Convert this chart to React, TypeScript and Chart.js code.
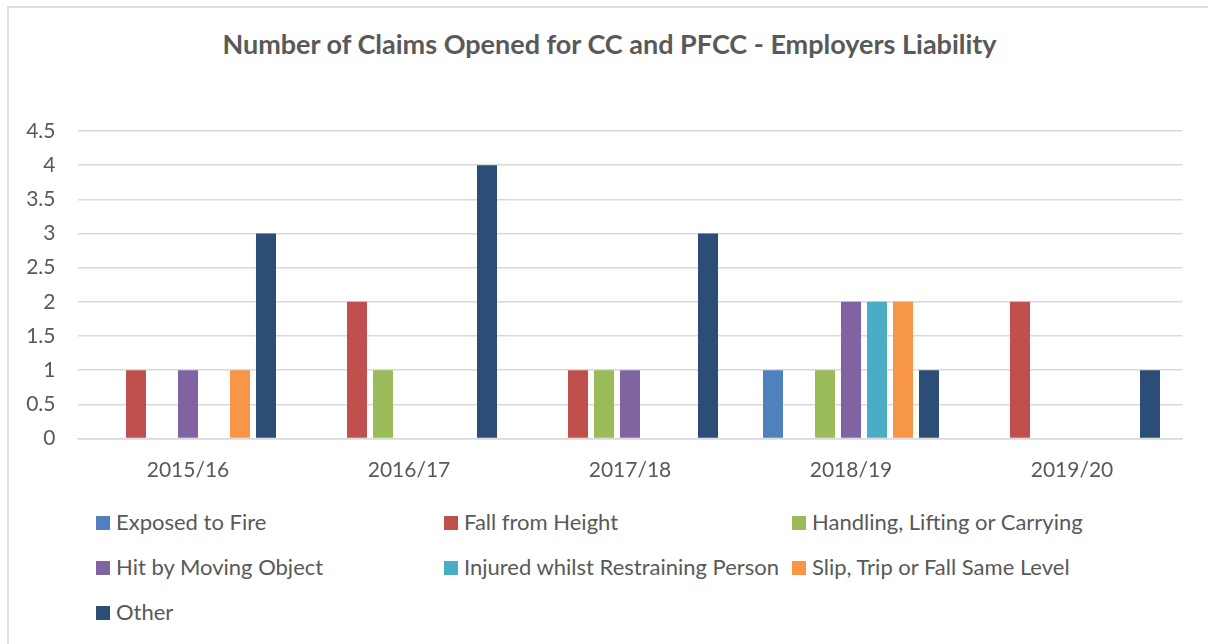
import React, { useEffect, useRef } from "react";
import { Chart, registerables } from "chart.js";

Chart.register(...registerables);

const title = "Number of Claims Opened for CC and PFCC - Employers Liability";
const categories = ["2015/16", "2016/17", "2017/18", "2018/19", "2019/20"];
const seriesNames = [
  "Exposed to Fire",
  "Fall from Height",
  "Handling, Lifting or Carrying",
  "Hit by Moving Object",
  "Injured whilst Restraining Person",
  "Slip, Trip or Fall Same Level",
  "Other",
];
const exposedToFire = [0, 0, 0, 1, 0];
const fallFromHeight = [1, 2, 1, 0, 2];
const handlingLifting = [0, 1, 1, 1, 0];
const hitByMovingObject = [1, 0, 1, 2, 0];
const injuredRestraining = [0, 0, 0, 2, 0];
const slipTripFall = [1, 0, 0, 2, 0];
const other = [3, 4, 3, 1, 1];
const seriesValues = [
  exposedToFire,
  fallFromHeight,
  handlingLifting,
  hitByMovingObject,
  injuredRestraining,
  slipTripFall,
  other,
];
const seriesColors = ["#4f81bd", "#c0504d", "#9bbb59", "#8064a2", "#4bacc6", "#f79646", "#2c4d75"];
const yMin = 0;
const yMax = 4.5;
const yStep = 0.5;

const FONT = "Lato, 'Open Sans', sans-serif";
const TEXT = "#595959";
const GRID = "#d9d9d9";

const legendCols = [96, 444, 792];
const legendRows = [523, 568, 613];

export default function App() {
  const ref = useRef<HTMLCanvasElement | null>(null);
  useEffect(() => {
    if (!ref.current) return;
    const chart = new Chart(ref.current, {
      type: "bar",
      data: {
        labels: categories,
        datasets: seriesNames.map((name, i) => ({
          label: name,
          data: seriesValues[i],
          backgroundColor: seriesColors[i],
          borderWidth: 0,
          categoryPercentage: 0.8235,
          barPercentage: 0.77,
        })),
      },
      options: {
        animation: false,
        responsive: false,
        maintainAspectRatio: false,
        layout: { padding: { left: 0, right: 25.5, top: 131, bottom: 0 } },
        plugins: {
          legend: { display: false },
          tooltip: { enabled: false },
          title: { display: false },
        },
        scales: {
          x: {
            grid: { display: false, drawTicks: false },
            border: { display: true, color: GRID, width: 1.5 },
            ticks: { color: TEXT, font: { family: FONT, size: 21 }, padding: 19, maxRotation: 0 },
            afterFit: (s: any) => {
              s.height = 61.5;
            },
          },
          y: {
            min: yMin,
            max: yMax,
            grid: { color: GRID, lineWidth: 1.5, drawTicks: false },
            border: { display: false },
            ticks: {
              stepSize: yStep,
              color: TEXT,
              font: { family: FONT, size: 21 },
              padding: 22,
              callback: (v: any) => String(v),
            },
            afterFit: (s: any) => {
              s.width = 77.5;
            },
          },
        },
      },
    });
    return () => chart.destroy();
  }, []);

  return (
    <div style={{ position: "fixed", left: 0, top: 0, width: 1208, height: 644, overflow: "hidden", background: "#fff", fontFamily: FONT }}>
      <div style={{ position: "absolute", left: 7, top: 6, width: 1220, height: 660, border: "2px solid #dedede", boxSizing: "border-box" }} />
      <div
        style={{
          position: "absolute",
          left: 0,
          top: 28,
          width: 1219,
          height: 32,
          lineHeight: "32px",
          textAlign: "center",
          fontSize: 27,
          fontWeight: "bold",
          color: TEXT,
          whiteSpace: "nowrap",
        }}
      >
        {title}
      </div>
      <canvas ref={ref} width={1208} height={500} style={{ position: "absolute", left: 0, top: 0, width: 1208, height: 500 }} />
      {seriesNames.map((name, i) => (
        <div
          key={name}
          style={{
            position: "absolute",
            left: legendCols[i % 3],
            top: legendRows[Math.floor(i / 3)] - 15,
            height: 30,
            display: "flex",
            alignItems: "center",
            color: TEXT,
            fontSize: 22,
            whiteSpace: "nowrap",
          }}
        >
          <span style={{ display: "inline-block", width: 14, height: 14, background: seriesColors[i], marginRight: 6, flex: "none" }} />
          <span style={{ position: "relative", top: -2 }}>{name}</span>
        </div>
      ))}
    </div>
  );
}
